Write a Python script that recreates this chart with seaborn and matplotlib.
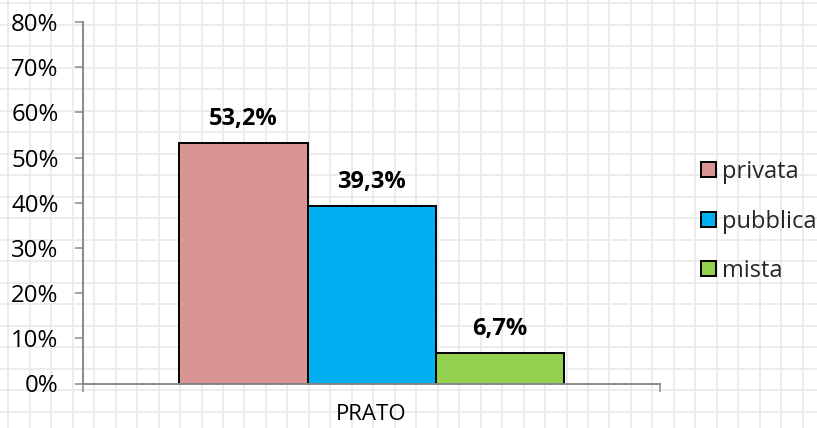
import matplotlib
matplotlib.use("Agg")
import matplotlib.pyplot as plt
from matplotlib.lines import Line2D
import seaborn as sns
import pandas as pd

# Data
regions = ["PRATO"]
ownership = ["privata", "pubblica", "mista"]
shares = [53.2, 39.3, 6.7]
colors = ["#D99594", "#00B0F0", "#92D050"]
yticks = [0, 10, 20, 30, 40, 50, 60, 70, 80]

df = pd.DataFrame({
    "region": regions * len(ownership),
    "ownership": ownership,
    "share": shares,
})

sns.set_theme(style="white")
plt.rcParams["font.family"] = ["Open Sans", "DejaVu Sans"]

W, H, DPI = 817, 428, 100
fig = plt.figure(figsize=(W / DPI, H / DPI), dpi=DPI)
fig.patch.set_facecolor("white")

# Spreadsheet cell grid behind the chart
grid_kw = dict(color="#EBEBEB", linewidth=1.3, zorder=-5)
x = 8.3
while x < W:
    fig.add_artist(Line2D([x / W, x / W], [0, 1], transform=fig.transFigure, **grid_kw))
    x += 21.47
y = 3.3
while y < H:
    fig.add_artist(Line2D([0, 1], [1 - y / H, 1 - y / H], transform=fig.transFigure, **grid_kw))
    y += 21.5

left, right, bottom, top = 83.3, 660, 383.5, 22
ax = fig.add_axes([left / W, 1 - bottom / H, (right - left) / W, (bottom - top) / H])
ax.set_facecolor("none")

sns.barplot(
    data=df, x="region", y="share", hue="ownership",
    hue_order=ownership, palette=colors, saturation=1,
    width=3 / 4.5, edgecolor="black", linewidth=1.4, ax=ax,
)

ax.set_xlim(-0.5, 0.5)
ax.set_ylim(0, 80)
ax.set_yticks(yticks)
ax.set_yticklabels([f"{t}%" for t in yticks])
ax.set_xlabel("")
ax.set_ylabel("")

axis_gray = "#898989"
for s in ["top", "right"]:
    ax.spines[s].set_visible(False)
for s in ["left", "bottom"]:
    ax.spines[s].set_color(axis_gray)
    ax.spines[s].set_linewidth(1.4)

ax.tick_params(axis="y", direction="out", length=5.8, width=1.1, color=axis_gray,
               pad=12, labelsize=17.3, labelcolor="black", left=True)
ax.set_xticks([-0.5, 0.5], minor=True)
ax.tick_params(axis="x", which="minor", direction="out", length=5.8, width=1.1,
               color=axis_gray, bottom=True)
ax.tick_params(axis="x", which="major", length=0, pad=15, labelsize=16,
               labelcolor="black")

# Value labels above each bar
for container in ax.containers:
    for bar in container:
        v = bar.get_height()
        ax.annotate(f"{v:.1f}%".replace(".", ","),
                    (bar.get_x() + bar.get_width() / 2, v),
                    xytext=(0, 13), textcoords="offset points",
                    ha="center", va="baseline", fontsize=17, fontweight="bold",
                    color="black")

handles, labels = ax.get_legend_handles_labels()
ax.legend(handles, labels, loc="center left",
          bbox_to_anchor=(701 / W, 1 - 221.5 / H), bbox_transform=fig.transFigure,
          frameon=False, fontsize=17, handlelength=0.62, handleheight=0.62,
          handletextpad=0.28, labelspacing=1.08, borderaxespad=0, borderpad=0)

fig.savefig("out.png", dpi=DPI, facecolor="white")
